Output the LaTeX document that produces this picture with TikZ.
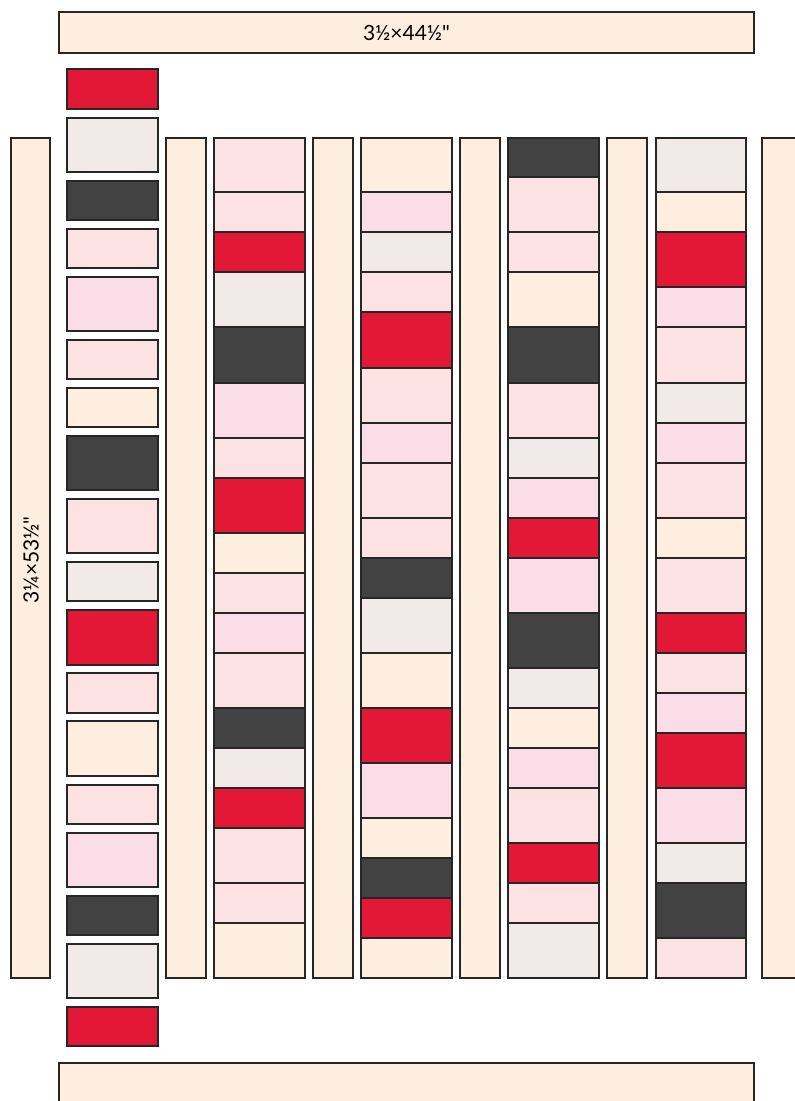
\documentclass[tikz,border=0pt]{standalone}
\usepackage{fontspec}
\setmainfont{Lato}[Ligatures=TeXOff]
\definecolor{qcream}{HTML}{FEEEE0}
\definecolor{qred}{HTML}{E31837}
\definecolor{qdark}{HTML}{424242}
\definecolor{qgrey}{HTML}{F2EAE8}
\definecolor{qpinka}{HTML}{FDE2E3}
\definecolor{qpinkb}{HTML}{FBDDE8}
\tikzset{patch/.style={draw=black!85,line width=1.1pt},
  dimlabel/.style={font=\fontsize{21}{24}\selectfont,inner sep=0pt}}
\begin{document}
\begin{tikzpicture}[x=1pt,y=-1pt]
\useasboundingbox (0,0) rectangle (795,1101);
\clip (0,0) rectangle (795,1101);
% banners
\filldraw[patch,fill=qcream] (59,12) rectangle (754,53);
\node[dimlabel] (toplabel) at (406.5,33) {3½×44½"};
\filldraw[patch,fill=qcream] (59,1063) rectangle (754,1115);
% left strip
\filldraw[patch,fill=qcream] (11,138) rectangle (50,978);
\node[dimlabel,rotate=90] (leftlabel) at (31,560) {3¼×53½"};
% sashing strips
\foreach \x in {166,313,460,607,762}
  \filldraw[patch,fill=qcream] (\x,138) rectangle (\x+40,978);
% loose blocks
\foreach \a/\b/\c in {69/109/qred,118/172/qgrey,181/220/qdark,229/268/qpinka,277/331/qpinkb,340/379/qpinka,388/427/qcream,436/490/qdark,499/553/qpinka,562/601/qgrey,610/665/qred,673/713/qpinka,721/776/qcream,785/824/qpinka,833/887/qpinkb,896/935/qdark,944/998/qgrey,1007/1046/qred}
  \filldraw[patch,fill=\c] (67,\a) rectangle (158,\b);
% column 1
\foreach \a/\b/\c in {138/192/qpinka,192/232/qpinka,232/272/qred,272/327/qgrey,327/383/qdark,383/438/qpinkb,438/478/qpinka,478/533/qred,533/573/qcream,573/613/qpinka,613/653/qpinkb,653/708/qpinka,708/748/qdark,748/788/qgrey,788/828/qred,828/883/qpinka,883/923/qpinka,923/978/qcream}
  \filldraw[patch,fill=\c] (214,\a) rectangle (305,\b);
% column 2
\foreach \a/\b/\c in {138/192/qcream,192/232/qpinkb,232/272/qgrey,272/312/qpinka,312/368/qred,368/423/qpinka,423/463/qpinkb,463/518/qpinka,518/558/qpinka,558/598/qdark,598/653/qgrey,653/708/qcream,708/763/qred,763/818/qpinkb,818/858/qcream,858/898/qdark,898/938/qred,938/978/qcream}
  \filldraw[patch,fill=\c] (361,\a) rectangle (452,\b);
% column 3
\foreach \a/\b/\c in {138/177/qdark,177/232/qpinka,232/272/qpinka,272/327/qcream,327/383/qdark,383/438/qpinka,438/478/qgrey,478/518/qpinkb,518/558/qred,558/613/qpinkb,613/668/qdark,668/708/qgrey,708/748/qcream,748/788/qpinkb,788/843/qpinka,843/883/qred,883/923/qpinka,923/978/qgrey}
  \filldraw[patch,fill=\c] (508,\a) rectangle (599,\b);
% column 4
\foreach \a/\b/\c in {138/192/qgrey,192/232/qcream,232/287/qred,287/327/qpinkb,327/383/qpinka,383/423/qgrey,423/463/qpinkb,463/518/qpinka,518/558/qcream,558/613/qpinka,613/653/qred,653/693/qpinka,693/733/qpinkb,733/788/qred,788/843/qpinkb,843/883/qgrey,883/938/qdark,938/978/qpinka}
  \filldraw[patch,fill=\c] (656,\a) rectangle (746,\b);
\end{tikzpicture}
\end{document}
